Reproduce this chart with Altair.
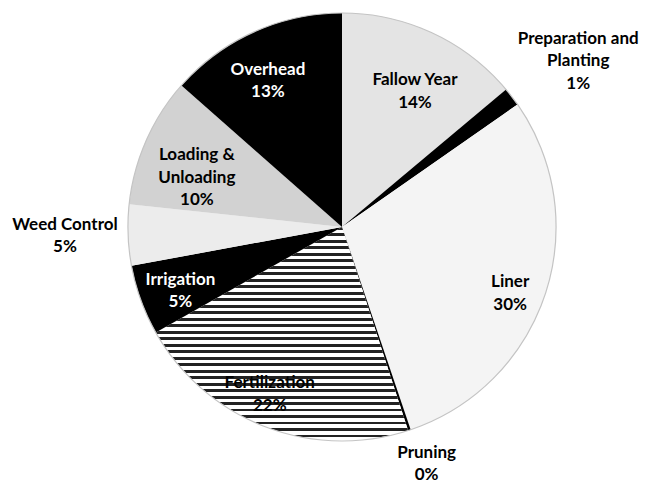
import altair as alt
import pandas as pd

categories = ["Fallow Year", "Preparation and Planting", "Liner", "Pruning",
              "Fertilization", "Irrigation", "Weed Control",
              "Loading & Unloading", "Overhead"]
shares = [13.9, 1.4, 29.5, 0.2, 21.8, 5.3, 4.6, 9.8, 13.5]
label_lines = [["Fallow Year", "14%"], ["Preparation and", "Planting", "1%"],
               ["Liner", "30%"], ["Pruning", "0%"], ["Fertilization", "22%"],
               ["Irrigation", "5%"], ["Weed Control", "5%"],
               ["Loading &", "Unloading", "10%"], ["Overhead", "13%"]]

df = pd.DataFrame({
    "cat": categories,
    "share": shares,
    "idx": list(range(len(categories))),
    "label": label_lines,
})

# ---- styling (not data) ----
fills = ["#e4e4e4", "#000000", "#f4f4f4", "#000000", "#8a8a8a",
         "#000000", "#ececec", "#d2d2d2", "#000000"]
label_dist = [164, 302, 177, 241, 172, 170, 277, 162, 174]   # px from centre
label_turn = [1.4, -1.1, 0, -2.2, 3.6, 1.9, 2.6, 2.6, -0.9]  # degrees off slice middle

n = 33
stops = []
for k in range(n):
    a = k / n
    b = (k + 0.45) / n
    c = (k + 1) / n
    stops += [{"offset": a, "color": "#222222"}, {"offset": b, "color": "#222222"},
              {"offset": b, "color": "#ffffff"}, {"offset": c, "color": "#ffffff"}]
stripes = {"gradient": "linear", "x1": 0, "y1": 0, "x2": 0, "y2": 1, "stops": stops}

CX, CY, R = 342, 227, 214
theta_scale = alt.Scale(domain=[0, 1], range=[0, 6.283185307179586])


def arr(vals):
    return "[" + ",".join(str(v) for v in vals) + "]"


base = alt.Chart(df).transform_window(
    cum="sum(share)", sort=[alt.SortField("idx")], frame=[None, 0]
).transform_joinaggregate(
    total="sum(share)"
).transform_calculate(
    t0="(datum.cum - datum.share) / datum.total",
    t1="datum.cum / datum.total",
    tm="(datum.cum - datum.share / 2) / datum.total + " + arr(label_turn) + "[datum.idx] / 360",
    lr=arr(label_dist) + "[datum.idx]",
)

arcs = base.mark_arc(radius=R, strokeWidth=0).encode(
    theta=alt.Theta("t0:Q", scale=theta_scale),
    theta2="t1:Q",
    x=alt.value(CX),
    y=alt.value(CY),
    fill=alt.condition(
        alt.datum.cat == "Fertilization",
        alt.value(stripes),
        alt.Fill("cat:N", scale=alt.Scale(domain=categories, range=fills), legend=None),
    ),
)

outline = alt.Chart(pd.DataFrame({"a": [0]})).mark_arc(
    fillOpacity=0, stroke="#c4c4c4", strokeWidth=1.2
).encode(
    theta=alt.value(6.2832), x=alt.value(CX), y=alt.value(CY), radius=alt.value(R)
)

labels = base.mark_text(
    font="Lato", fontWeight="bold", fontSize=17, lineHeight=22.5,
    align="center", baseline="middle",
).encode(
    theta=alt.Theta("tm:Q", scale=theta_scale),
    radius=alt.Radius("lr:Q", scale=None),
    x=alt.value(CX),
    y=alt.value(CY),
    text="label",
    color=alt.condition(
        alt.FieldOneOfPredicate(field="cat", oneOf=["Overhead", "Irrigation"]),
        alt.value("#ffffff"), alt.value("#000000")),
)

chart = alt.layer(arcs, outline, labels).properties(
    width=646, height=481, padding=0, autosize="none", background="#ffffff"
).configure_view(stroke=None)

chart.save("out.html", embed_options={"renderer": "svg", "actions": False})
